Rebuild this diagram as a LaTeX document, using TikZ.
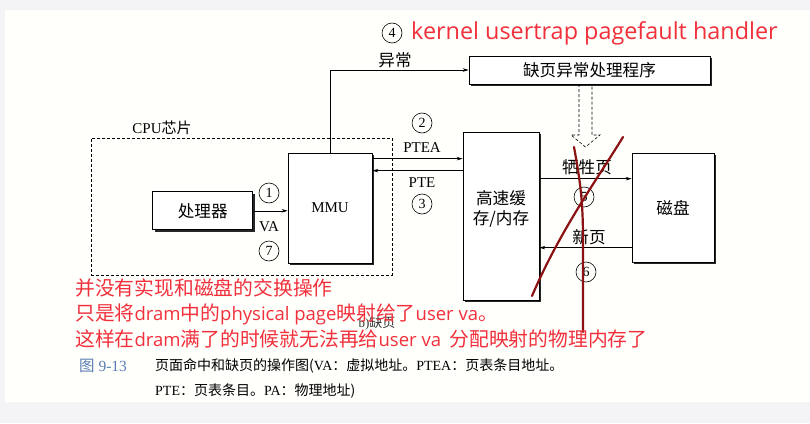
\documentclass[tikz,border=0pt]{standalone}
\usepackage{fontspec}
\setmainfont{Liberation Serif}
\newfontfamily\cjkf{Noto Sans CJK SC}
\newfontfamily\redf{Open Sans}
\usetikzlibrary{arrows.meta,shadows,calc}
\definecolor{redtxt}{HTML}{F2303C}
\definecolor{pen}{HTML}{8A1212}
\definecolor{capblue}{HTML}{5B7DB5}
\definecolor{pagebg}{HTML}{F4F4F6}
\definecolor{paper}{HTML}{FFFFFC}
\newcommand{\zhs}[1]{{\cjkf #1}}
\newcommand{\redl}[1]{{\fontsize{18.5}{18.5}\redf #1}}
\begin{document}
\begin{tikzpicture}[x=1pt,y=-1pt,
 box/.style={draw, line width=0.7pt, fill=white, inner sep=0pt,
   drop shadow={shadow xshift=2.2pt, shadow yshift=-2.2pt, fill=black!85, opacity=1}},
 arr/.style={-{Stealth[length=6pt,width=3.5pt]}, line width=0.6pt},
 num/.style={draw, circle, line width=0.6pt, minimum size=20pt, inner sep=0pt, font=\fontsize{14}{14}\selectfont},
 lab/.style={font=\fontsize{15}{15}\selectfont, inner sep=0pt},
 zh/.style={font=\fontsize{16.6}{19.5}\cjkf, inner sep=0pt},
 note/.style={text=redtxt, anchor=west, inner sep=0pt, font=\fontsize{19.8}{19.8}\cjkf}]
\fill[pagebg] (0,0) rectangle (810,423);
\fill[paper] (5,10) rectangle (810,402);
\useasboundingbox (0,0) rectangle (810,423);
% CPU chip
\node[draw, dash pattern=on 3pt off 2pt, line width=0.6pt, minimum width=301pt, minimum height=137pt, inner sep=0pt] (cpu) at (241.5,206.5) {};
\node[lab] (cpulab) at (162,128) {CPU\zhs{芯片}};
% boxes
\node[box, minimum width=100pt, minimum height=38pt, zh] (proc) at (202.7,210.8) {处理器};
\node[box, minimum width=84pt, minimum height=110pt, lab] (mmu) at (330,208) {MMU};
\node[box, minimum width=76pt, minimum height=168pt] (cache) at (501,216) {};
\node[zh, align=center] (cachetxt) at (501,209) {高速缓\\存/内存};
\node[box, minimum width=82pt, minimum height=109pt, zh] (disk) at (673,207.5) {磁盘};
\node[box, minimum width=241pt, minimum height=28pt, zh] (handler) at (589.5,70) {缺页异常处理程序};
% connectors
\draw[arr] (proc.east) -- (proc.east -| mmu.west);
\coordinate (ptea) at ($(mmu.north east)+(0,6)$);
\draw[arr] (ptea) -- (ptea -| cache.west);
\coordinate (pte) at ($(mmu.north east)+(0,18)$);
\draw[arr] (pte -| cache.west) -- (pte);
\draw[arr] (mmu.north) |- (handler.west);
\coordinate (victim) at ($(disk.north west)+(0,26)$);
\draw[arr] (victim -| cache.east) -- (victim);
\coordinate (newpg) at ($(disk.north west)+(0,95)$);
\draw[arr] (newpg) -- (newpg -| cache.east);
% hollow dashed arrow
\draw[dash pattern=on 3pt off 2pt, line width=0.6pt] (579,84) -- (579,135) -- (571,135) -- (585.5,147) -- (600,135) -- (592,135) -- (592,84);
% labels
\node[num] (c1) at (269,193) {1};
\node[lab] (va) at (269,227) {VA};
\node[num] (c7) at (269,251) {7};
\node[num] (c2) at (422,123) {2};
\node[lab] (pteal) at (422,148) {PTEA};
\node[lab] (ptel) at (422,183) {PTE};
\node[num] (c3) at (422,204) {3};
\node[num] (c4) at (392,33) {4};
\node[zh] (exc) at (395,60) {异常};
\node[zh] (victl) at (587,167) {牺牲页};
\node[num] (c5) at (584,197) {5};
\node[zh] (newl) at (589,237) {新页};
\node[num] (c6) at (586,272) {6};
\node[font=\fontsize{13}{13}\selectfont, text=black!80, inner sep=0pt] (bsub) at (377,323) {b)\zhs{缺页}};
% caption
\node[anchor=west, text=capblue, inner sep=0pt, font=\fontsize{15.5}{15.5}\selectfont] (capnum) at (79,366) {\zhs{图} 9-13};
\node[anchor=west, inner sep=0pt, font=\fontsize{14}{14}\selectfont] (cap1) at (155,366) {\zhs{页面命中和缺页的操作图(}VA\zhs{：虚拟地址。}PTEA\zhs{：页表条目地址。}};
\node[anchor=west, inner sep=0pt, font=\fontsize{14}{14}\selectfont] (cap2) at (155,391) {PTE\zhs{：页表条目。}PA\zhs{：物理地址)}};
% red annotations
\draw[pen, line width=2.2pt, line cap=round] (574,147) .. controls (580,180) and (583,200) .. (583,240) -- (583,332);
\draw[pen, line width=2.2pt, line cap=round] (623,137) .. controls (600,175) and (560,230) .. (532,296);
\node[text=redtxt, anchor=west, inner sep=0pt, font=\fontsize{23.4}{23.4}\redf] (title) at (411,33) {kernel usertrap pagefault handler};
\node[note] (n1) at (75,288) {并没有实现和磁盘的交换操作};
\node[note] (n2) at (75,314.5) {只是将\redl{dram}中的\redl{physical page}映射给了\redl{user va}。};
\node[note] (n3) at (75,339) {这样在\redl{dram}满了的时候就无法再给\redl{user va}\hspace{4pt} 分配映射的物理内存了};
\end{tikzpicture}
\end{document}
